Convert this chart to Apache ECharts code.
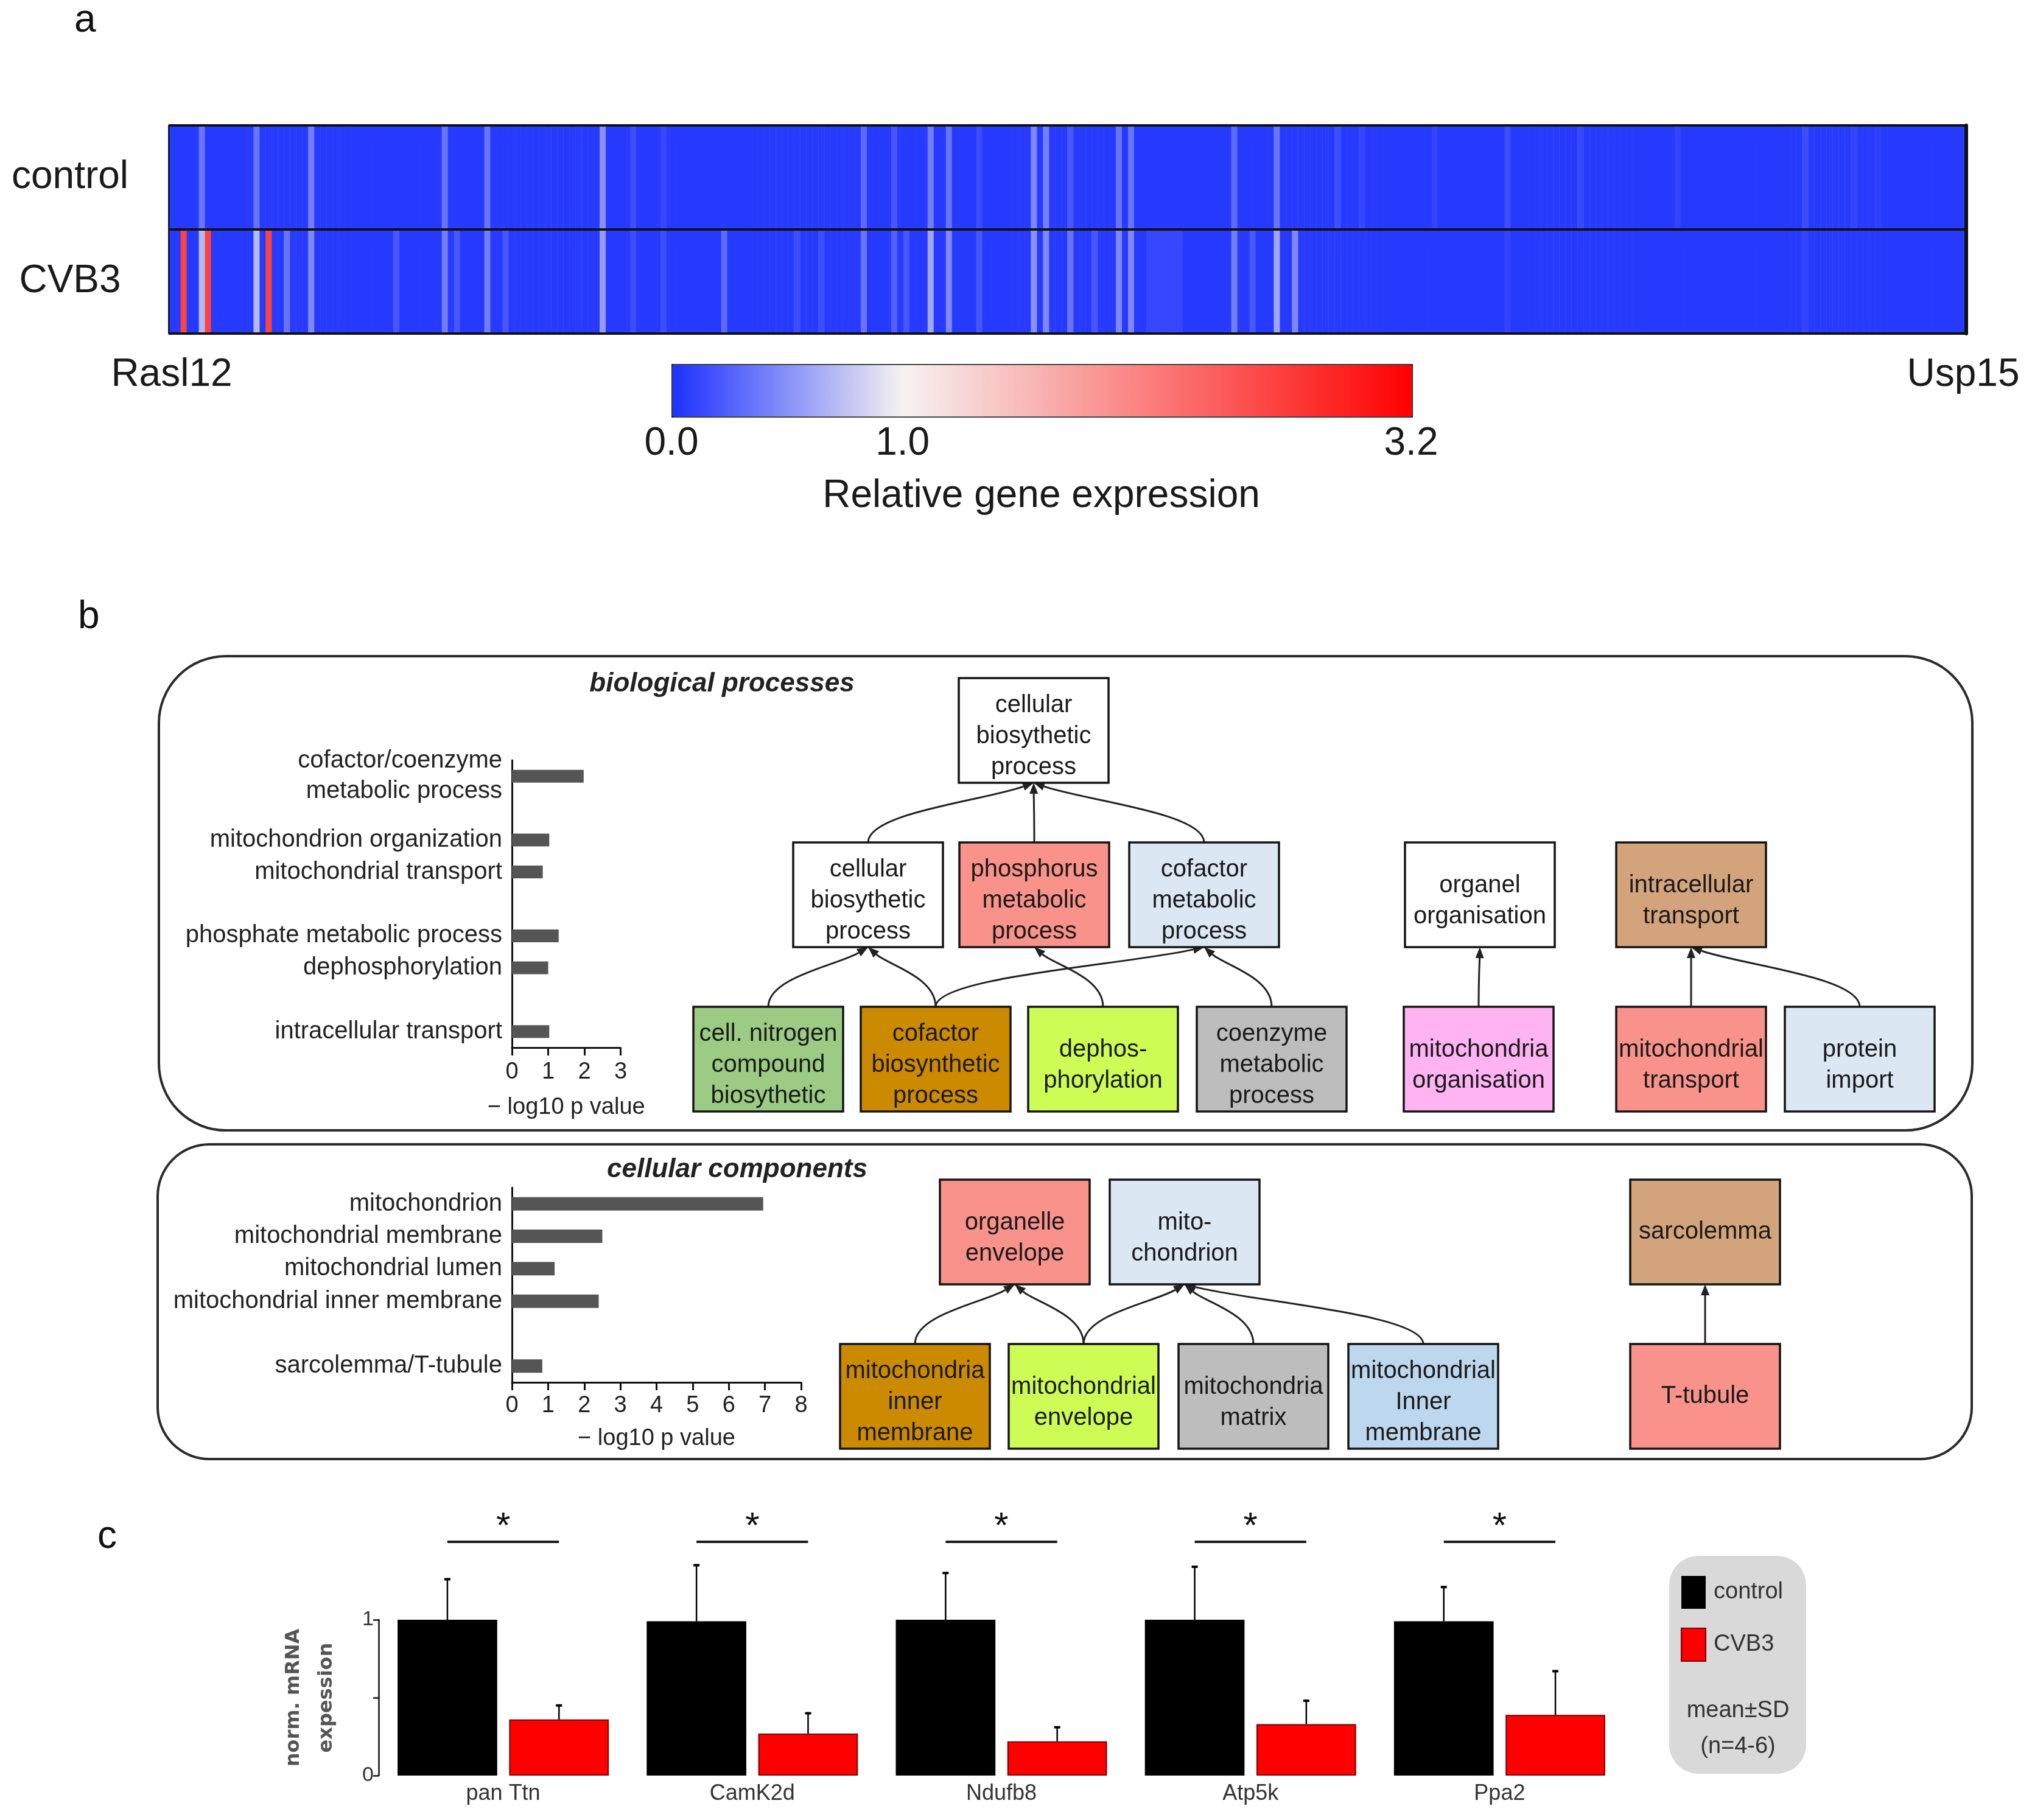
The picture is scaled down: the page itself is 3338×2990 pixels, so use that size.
<!DOCTYPE html>
<html><head><meta charset="utf-8">
<script src="https://cdn.jsdelivr.net/npm/echarts@6/dist/echarts.min.js"></script>
<style>html,body{margin:0;padding:0;background:#fff}#c{width:3338px;height:2990px}</style>
</head><body><div id="c"></div>
<script>
// ---------------- DATA ----------------
// panel a: relative expression per gene (columns, left Rasl12 -> right Usp15)
const controlExpr = [
0.05,0.05,0.05,0.05,0.05,0.35,0.05,0.05,0.05,0.05,0.05,0.05,0.05,0.05,0.35,0.05,0.05,0.05,0.05,0.05,
0.05,0.05,0.05,0.4,0.05,0.05,0.05,0.05,0.05,0.05,0.05,0.05,0.05,0.05,0.05,0.05,0.05,0.05,0.05,0.05,
0.05,0.05,0.05,0.05,0.05,0.35,0.05,0.05,0.05,0.05,0.05,0.05,0.35,0.05,0.05,0.05,0.05,0.05,0.05,0.05,
0.05,0.05,0.05,0.05,0.05,0.05,0.05,0.05,0.05,0.05,0.05,0.5,0.05,0.05,0.05,0.05,0.15,0.05,0.05,0.05,
0.05,0.12,0.05,0.05,0.05,0.05,0.05,0.05,0.05,0.05,0.05,0.05,0.05,0.05,0.05,0.05,0.05,0.05,0.05,0.05,
0.05,0.05,0.05,0.05,0.05,0.05,0.05,0.05,0.05,0.05,0.05,0.05,0.05,0.05,0.3,0.05,0.05,0.05,0.05,0.2,
0.05,0.05,0.05,0.05,0.05,0.4,0.05,0.05,0.35,0.05,0.05,0.05,0.05,0.15,0.05,0.05,0.05,0.05,0.05,0.05,
0.05,0.05,0.45,0.05,0.4,0.05,0.05,0.05,0.2,0.05,0.05,0.05,0.05,0.05,0.05,0.05,0.35,0.05,0.35,0.05,
0.05,0.05,0.05,0.05,0.05,0.05,0.05,0.05,0.05,0.05,0.05,0.05,0.05,0.05,0.05,0.3,0.05,0.05,0.05,0.05,
0.05,0.05,0.35,0.05,0.05,0.05,0.05,0.05,0.05,0.05,0.05,0.05,0.15,0.05,0.05,0.05,0.12,0.05,0.05,0.05,
0.05,0.05,0.05,0.05,0.05,0.05,0.05,0.05,0.1,0.05,0.05,0.05,0.05,0.05,0.05,0.05,0.05,0.05,0.05,0.05,
0.15,0.05,0.05,0.05,0.05,0.05,0.05,0.05,0.05,0.05,0.05,0.05,0.12,0.05,0.05,0.05,0.05,0.05,0.05,0.05,
0.05,0.05,0.05,0.05,0.05,0.05,0.05,0.05,0.1,0.05,0.05,0.05,0.05,0.05,0.05,0.05,0.05,0.05,0.05,0.05,
0.05,0.05,0.05,0.05,0.05,0.05,0.05,0.05,0.05,0.15,0.05,0.05,0.05,0.05,0.05,0.05,0.05,0.1,0.05,0.05,
0.05,0.08,0.05,0.05,0.05,0.05,0.05,0.05,0.05,0.05,0.05,0.05,0.05,0.05,0.05,0.05
];
const cvb3Expr = [
0.05,0.05,2.6,0.05,0.05,0.7,2.6,0.05,0.05,0.05,0.05,0.05,0.05,0.05,0.7,0.05,2.6,0.05,0.05,0.35,
0.05,0.05,0.05,0.45,0.05,0.05,0.05,0.05,0.05,0.05,0.05,0.05,0.05,0.05,0.05,0.05,0.05,0.2,0.05,0.05,
0.05,0.05,0.05,0.05,0.05,0.4,0.05,0.2,0.05,0.05,0.05,0.05,0.4,0.05,0.05,0.2,0.05,0.05,0.05,0.05,
0.05,0.05,0.05,0.05,0.05,0.05,0.05,0.05,0.05,0.05,0.05,0.55,0.05,0.05,0.05,0.05,0.15,0.05,0.05,0.05,
0.05,0.15,0.05,0.05,0.05,0.05,0.05,0.05,0.05,0.05,0.05,0.3,0.05,0.05,0.05,0.05,0.05,0.05,0.05,0.05,
0.05,0.05,0.05,0.15,0.05,0.05,0.05,0.15,0.05,0.05,0.05,0.05,0.05,0.05,0.35,0.05,0.05,0.05,0.05,0.25,
0.05,0.2,0.05,0.05,0.05,0.6,0.05,0.05,0.45,0.05,0.05,0.05,0.05,0.2,0.05,0.05,0.05,0.05,0.05,0.05,
0.05,0.05,0.5,0.05,0.45,0.05,0.05,0.05,0.35,0.05,0.05,0.05,0.2,0.05,0.05,0.05,0.45,0.05,0.45,0.05,
0.05,0.12,0.12,0.12,0.12,0.12,0.12,0.05,0.05,0.05,0.05,0.05,0.05,0.05,0.05,0.4,0.05,0.05,0.2,0.05,
0.05,0.05,0.6,0.05,0.05,0.45,0.05,0.05,0.05,0.05,0.05,0.05,0.05,0.05,0.05,0.05,0.05,0.05,0.05,0.05,
0.05,0.05,0.05,0.05,0.05,0.05,0.05,0.05,0.05,0.05,0.05,0.05,0.05,0.05,0.05,0.05,0.05,0.05,0.05,0.05,
0.1,0.05,0.05,0.05,0.05,0.05,0.05,0.05,0.05,0.05,0.05,0.05,0.05,0.05,0.05,0.05,0.05,0.05,0.05,0.05,
0.05,0.05,0.05,0.05,0.05,0.05,0.05,0.05,0.05,0.05,0.05,0.05,0.05,0.05,0.05,0.05,0.05,0.05,0.05,0.05,
0.05,0.05,0.05,0.05,0.05,0.05,0.05,0.05,0.05,0.1,0.05,0.05,0.05,0.05,0.05,0.05,0.05,0.05,0.05,0.05,
0.05,0.05,0.05,0.05,0.05,0.05,0.05,0.05,0.05,0.05,0.05,0.05,0.05,0.05,0.05,0.05
];
const heatRows = ['CVB3', 'control'];
const endGenes = ['Rasl12', 'Usp15'];
const colorbarTicks = [0, 1, 3.2];

// panel b: GO enrichment (-log10 p)
const bpTerms = ['cofactor/coenzyme\nmetabolic process', '', 'mitochondrion organization', 'mitochondrial transport', '', 'phosphate metabolic process', 'dephosphorylation', '', 'intracellular transport'];
const bpValues = [1.98, null, 1.03, 0.85, null, 1.29, 1.0, null, 1.03];
const ccTerms = ['mitochondrion', 'mitochondrial membrane', 'mitochondrial lumen', 'mitochondrial inner membrane', '', 'sarcolemma/T-tubule'];
const ccValues = [6.95, 2.5, 1.18, 2.4, null, 0.84];

// panel b: GO graphs
const bpNodes = ['cellular\nbiosythetic\nprocess', 'cellular\nbiosythetic\nprocess', 'phosphorus\nmetabolic\nprocess', 'cofactor\nmetabolic\nprocess', 'organel\norganisation', 'intracellular\ntransport', 'cell. nitrogen\ncompound\nbiosythetic', 'cofactor\nbiosynthetic\nprocess', 'dephos-\nphorylation', 'coenzyme\nmetabolic\nprocess', 'mitochondria\norganisation', 'mitochondrial\ntransport', 'protein\nimport'];
const bpEdges = [[1,0],[2,0],[3,0],[6,1],[7,1],[7,3],[8,2],[9,3],[10,4],[11,5],[12,5]];
const ccNodes = ['organelle\nenvelope', 'mito-\nchondrion', 'sarcolemma', 'mitochondria\ninner\nmembrane', 'mitochondrial\nenvelope', 'mitochondria\nmatrix', 'mitochondrial\nInner\nmembrane', 'T-tubule'];
const ccEdges = [[3,0],[4,0],[4,1],[5,1],[6,1],[7,2]];

// panel c: qPCR
const genesC = ['pan Ttn', 'CamK2d', 'Ndufb8', 'Atp5k', 'Ppa2'];
const ctrlMean = [1.0, 0.99, 1.0, 1.0, 0.99];
const ctrlSD = [0.26, 0.36, 0.30, 0.34, 0.22];
const cvbMean = [0.36, 0.27, 0.22, 0.33, 0.39];
const cvbSD = [0.09, 0.13, 0.09, 0.15, 0.28];
const sigMarks = ['*', '*', '*', '*', '*'];
const SIG_LEVEL = 1.5;

// ---------------- LAYOUT / STYLE ----------------
const FONT = "'Liberation Sans', Arimo, Arial, sans-serif";
const BOX_W = 246, BOX_H = 172;
const bpPos = [[1698,1200],[1426,1470],[1699,1470],[1978,1470],[2431,1470],[2778,1470],[1262,1740],[1537,1740],[1812,1740],[2089,1740],[2429,1740],[2778,1740],[3055,1740]];
const bpColors = ['#ffffff','#ffffff','#f9928a','#dce7f4','#ffffff','#d3a47c','#9ccb84','#cc8a00','#cdfd55','#bdbdbd','#ffb3f3','#f9928a','#dce7f4'];
const ccPos = [[1667,2024],[1946,2024],[2801,2024],[1503,2294],[1780,2294],[2059,2294],[2338,2294],[2801,2294]];
const ccColors = ['#f9928a','#dce7f4','#d3a47c','#cc8a00','#cdfd55','#bdbdbd','#bdd7ee','#f9928a'];

// colour map: blue (0) -> white (1.0) -> red (3.2)
const BLUE = [28, 48, 255], WHITE = [246, 243, 241], RED = [255, 0, 0];
function mix(a, b, t) { return 'rgb(' + a.map((v, k) => Math.round(v + (b[k] - v) * t)).join(',') + ')'; }
const cmap = [];
for (let k = 0; k <= 32; k++) { const v = k / 10; cmap.push(v <= 1 ? mix(BLUE, WHITE, v) : mix(WHITE, RED, (v - 1) / 2.2)); }

const N = Math.min(controlExpr.length, cvb3Expr.length);
const heatData = [];
for (let i = 0; i < N; i++) { heatData.push([i, 0, cvb3Expr[i]]); heatData.push([i, 1, controlExpr[i]]); }
const geneIdx = Array.from({length: N}, (_, i) => String(i));

function boxRender(names, pos, colors) {
  return function (params, api) {
    const i = params.dataIndex;
    const c = api.coord([api.value(0), api.value(1)]);
    const s = api.size([BOX_W, BOX_H]);
    const w = Math.abs(s[0]), h = Math.abs(s[1]);
    const nl = names[i].split('\n').length;
    return { type: 'group', children: [
      { type: 'rect', shape: { x: c[0] - w / 2, y: c[1] - h / 2, width: w, height: h },
        style: { fill: colors[i], stroke: '#141414', lineWidth: 3.5 } },
      { type: 'text', x: c[0], y: c[1] + (nl > 1 ? 10 : 0),
        style: { text: names[i], fill: '#1a1a1a', fontSize: 40, fontFamily: FONT, align: 'center', verticalAlign: 'middle', lineHeight: 51 } }
    ]};
  };
}
function edgeRender(params, api) {
  const a = api.coord([api.value(0), api.value(1)]);
  const b = api.coord([api.value(2), api.value(3)]);
  const dx = a[0] - b[0], dy = a[1] - b[1];
  const cp1 = [a[0], a[1] - dy * 0.5];
  const cp2 = [b[0] + dx * 0.3, b[1] + dy * 0.3];
  let ux = b[0] - cp2[0], uy = b[1] - cp2[1];
  const L = Math.hypot(ux, uy) || 1; ux /= L; uy /= L;
  const AL = 18, AW = 7;
  const bx = b[0] - ux * AL, by = b[1] - uy * AL;
  return { type: 'group', children: [
    { type: 'bezierCurve', shape: { x1: a[0], y1: a[1], x2: bx, y2: by, cpx1: cp1[0], cpy1: cp1[1], cpx2: cp2[0], cpy2: cp2[1] },
      style: { stroke: '#222', lineWidth: 3, fill: null } },
    { type: 'polygon', shape: { points: [[b[0], b[1]], [bx - uy * AW, by + ux * AW], [bx + uy * AW, by - ux * AW]] },
      style: { fill: '#222' } }
  ]};
}
function edgeData(edges, pos) {
  return edges.map(([c, p]) => [pos[c][0], pos[c][1] - BOX_H / 2, pos[p][0], pos[p][1] + BOX_H / 2]);
}

const errData = [];
genesC.forEach((g, i) => { errData.push([i, ctrlMean[i], ctrlSD[i], 0]); errData.push([i, cvbMean[i], cvbSD[i], 1]); });
const OFF = 0.224;

const axisBlack = { lineStyle: { color: '#111', width: 3 } };

const option = {
  animation: false,
  backgroundColor: '#ffffff',
  textStyle: { fontFamily: FONT },
  grid: [
    { left: 277, top: 206, width: 2953, height: 342 },
    { left: 1103, top: 598, width: 1215, height: 85 },
    { left: 841, top: 1249, width: 178.5, height: 472 },
    { left: 841, top: 1951, width: 475, height: 320 },
    { left: 622, top: 2661, width: 2046, height: 256 },
    { left: 0, top: 0, width: 3338, height: 2990 }
  ],
  xAxis: [
    { gridIndex: 0, type: 'category', data: geneIdx, axisLine: { show: false }, axisTick: { show: false },
      axisLabel: { interval: (idx) => idx === 0 || idx === N - 1, formatter: (v, idx) => idx === 0 ? endGenes[0] : endGenes[1],
        fontSize: 64, color: '#1a1a1a', margin: 36, fontFamily: FONT } },
    { gridIndex: 1, type: 'value', min: 0, max: 3.2, interval: 1, axisLine: { show: false }, axisTick: { show: false }, splitLine: { show: false },
      axisLabel: { fontSize: 64, color: '#1a1a1a', margin: 14, showMaxLabel: true, showMinLabel: true, fontFamily: FONT,
        formatter: (v) => colorbarTicks.some(t => Math.abs(t - v) < 1e-9) ? v.toFixed(1) : '' },
      name: 'Relative gene expression', nameLocation: 'middle', nameGap: 100, nameTextStyle: { fontSize: 64, color: '#1a1a1a', fontFamily: FONT } },
    { gridIndex: 2, type: 'value', min: 0, max: 3, interval: 1, axisLine: { show: true, ...axisBlack }, axisTick: { show: true, length: 13, ...axisBlack },
      splitLine: { show: false }, axisLabel: { fontSize: 38, color: '#222', margin: 22, fontFamily: FONT },
      name: '\u2212 log10 p value', nameLocation: 'middle', nameGap: 80, nameTextStyle: { fontSize: 38, color: '#222', fontFamily: FONT } },
    { gridIndex: 3, type: 'value', min: 0, max: 8, interval: 1, axisLine: { show: true, ...axisBlack }, axisTick: { show: true, length: 13, ...axisBlack },
      splitLine: { show: false }, axisLabel: { fontSize: 38, color: '#222', margin: 20, fontFamily: FONT },
      name: '\u2212 log10 p value', nameLocation: 'middle', nameGap: 74, nameTextStyle: { fontSize: 38, color: '#222', fontFamily: FONT } },
    { gridIndex: 4, type: 'category', data: genesC, axisLine: { show: false }, axisTick: { show: false },
      axisLabel: { fontSize: 36, color: '#333', margin: 12, fontFamily: FONT } },
    { gridIndex: 5, type: 'value', min: 0, max: 3338, show: false }
  ],
  yAxis: [
    { gridIndex: 0, type: 'category', data: heatRows, z: 5, axisTick: { show: false },
      axisLine: { show: true, lineStyle: { color: '#1a1a40', width: 3 } },
      splitLine: { show: true, lineStyle: { color: '#111', width: 4 } },
      axisLabel: { fontSize: 64, color: '#1a1a1a', align: 'center', margin: 162, fontFamily: FONT } },
    { gridIndex: 0, type: 'category', data: heatRows, position: 'right', z: 5, axisTick: { show: false }, axisLabel: { show: false },
      axisLine: { show: true, lineStyle: { color: '#111', width: 6 } } },
    { gridIndex: 1, type: 'value', show: false },
    { gridIndex: 2, type: 'category', data: bpTerms, inverse: true, axisTick: { show: false },
      axisLine: { show: true, ...axisBlack }, axisLabel: { fontSize: 40, color: '#222', margin: 16, lineHeight: 50, fontFamily: FONT } },
    { gridIndex: 3, type: 'category', data: ccTerms, inverse: true, axisTick: { show: false },
      axisLine: { show: true, ...axisBlack }, axisLabel: { fontSize: 40, color: '#222', margin: 16, fontFamily: FONT } },
    { gridIndex: 4, type: 'value', min: 0, max: 1, interval: 0.5, splitLine: { show: false },
      axisLine: { show: true, lineStyle: { color: '#111', width: 2.5 } }, axisTick: { show: true, length: 9, lineStyle: { color: '#111', width: 2.5 } },
      axisLabel: { fontSize: 34, color: '#333', margin: 8, fontFamily: FONT, formatter: (v) => (v === 0 || v === 1) ? String(v) : '' },
      name: 'norm. mRNA\nexpession', nameLocation: 'middle', nameRotate: 90, nameGap: 58,
      nameTextStyle: { fontSize: 32, color: '#555', fontWeight: 'bold', fontFamily: "'DejaVu Sans', sans-serif", lineHeight: 54 } },
    { gridIndex: 5, type: 'value', min: 0, max: 2990, inverse: true, show: false }
  ],
  visualMap: {
    type: 'continuous', min: 0, max: 3.2, seriesIndex: 0, orient: 'horizontal',
    left: 1103, top: 598, itemWidth: 85, itemHeight: 1215, calculable: false, hoverLink: false,
    padding: 0, borderColor: '#1a1a1a', borderWidth: 3, inRange: { color: cmap }
  },
  legend: {
    data: ['control', 'CVB3'], left: 2761, top: 2589, orient: 'vertical', icon: 'rect',
    itemWidth: 40, itemHeight: 54, itemGap: 31, padding: 0,
    textStyle: { fontSize: 38, color: '#333', fontFamily: FONT, padding: [0, 0, 0, 8] }
  },
  graphic: [
    { type: 'text', left: 122, top: 2, style: { text: 'a', fontSize: 64, fill: '#111', fontFamily: FONT } },
    { type: 'text', left: 128, top: 982, style: { text: 'b', fontSize: 64, fill: '#111', fontFamily: FONT } },
    { type: 'text', left: 160, top: 2493, style: { text: 'c', fontSize: 64, fill: '#111', fontFamily: FONT } },
    { type: 'rect', z: -1, shape: { x: 261, y: 1078, width: 2979, height: 779, r: 110 }, style: { fill: 'none', stroke: '#2a2a2a', lineWidth: 4 } },
    { type: 'rect', z: -1, shape: { x: 259, y: 1880, width: 2980, height: 517, r: 85 }, style: { fill: 'none', stroke: '#2a2a2a', lineWidth: 4 } },
    { type: 'text', x: 1186, y: 1124, style: { text: 'biological processes', fontSize: 44, fontWeight: 'bold', fontStyle: 'italic', fill: '#222', fontFamily: FONT, align: 'center', verticalAlign: 'middle' } },
    { type: 'text', x: 1211, y: 1922, style: { text: 'cellular components', fontSize: 44, fontWeight: 'bold', fontStyle: 'italic', fill: '#222', fontFamily: FONT, align: 'center', verticalAlign: 'middle' } },
    { type: 'rect', z: -1, shape: { x: 2742, y: 2556, width: 225, height: 358, r: 48 }, style: { fill: '#d9d9d9' } },
    { type: 'text', x: 2855, y: 2811, style: { text: 'mean\u00b1SD', fontSize: 38, fill: '#333', fontFamily: FONT, align: 'center', verticalAlign: 'middle' } },
    { type: 'text', x: 2855, y: 2870, style: { text: '(n=4-6)', fontSize: 38, fill: '#333', fontFamily: FONT, align: 'center', verticalAlign: 'middle' } }
  ],
  series: [
    { type: 'heatmap', xAxisIndex: 0, yAxisIndex: 0, data: heatData, progressive: 0, itemStyle: { borderWidth: 0 } },
    { type: 'bar', xAxisIndex: 2, yAxisIndex: 3, data: bpValues, barWidth: 21, itemStyle: { color: '#555' } },
    { type: 'bar', xAxisIndex: 3, yAxisIndex: 4, data: ccValues, barWidth: 22, itemStyle: { color: '#555' } },
    { name: 'control', type: 'bar', xAxisIndex: 4, yAxisIndex: 5, data: ctrlMean, barWidth: '40%', barGap: '12%', itemStyle: { color: '#000' } },
    { name: 'CVB3', type: 'bar', xAxisIndex: 4, yAxisIndex: 5, data: cvbMean, barWidth: '40%', barGap: '12%', itemStyle: { color: '#ff0000', borderColor: '#7a0000', borderWidth: 2 } },
    { type: 'custom', xAxisIndex: 4, yAxisIndex: 5, data: errData, encode: { x: 0, y: 1 }, z: 4, clip: false,
      renderItem: (params, api) => {
        const ci = api.value(0), m = api.value(1), sd = api.value(2), g = api.value(3);
        const band = api.size([1, 0])[0];
        const p0 = api.coord([ci, m]), p1 = api.coord([ci, m + sd]);
        const x = p0[0] + (g === 0 ? -1 : 1) * OFF * band;
        return { type: 'group', children: [
          { type: 'line', shape: { x1: x, y1: p0[1], x2: x, y2: p1[1] }, style: { stroke: '#000', lineWidth: 2.5 } },
          { type: 'line', shape: { x1: x - 5, y1: p1[1], x2: x + 5, y2: p1[1] }, style: { stroke: '#000', lineWidth: 4 } }
        ]};
      } },
    { type: 'custom', xAxisIndex: 4, yAxisIndex: 5, data: sigMarks.map((s, i) => [i, SIG_LEVEL]), encode: { x: 0, y: 1 }, z: 4, clip: false,
      renderItem: (params, api) => {
        const ci = api.value(0), lv = api.value(1);
        const band = api.size([1, 0])[0];
        const p = api.coord([ci, lv]);
        const ps = api.coord([ci, lv + 0.125]);
        return { type: 'group', children: [
          { type: 'line', shape: { x1: p[0] - OFF * band, y1: p[1], x2: p[0] + OFF * band, y2: p[1] }, style: { stroke: '#1a1a1a', lineWidth: 4 } },
          { type: 'text', x: p[0], y: ps[1] + 8, style: { text: sigMarks[params.dataIndex], fontSize: 60, fill: '#111', fontFamily: FONT, align: 'center', verticalAlign: 'middle' } }
        ]};
      } },
    { type: 'custom', xAxisIndex: 5, yAxisIndex: 6, data: edgeData(bpEdges, bpPos), encode: { x: [0, 2], y: [1, 3] }, z: 2, clip: false, renderItem: edgeRender },
    { type: 'custom', xAxisIndex: 5, yAxisIndex: 6, data: bpPos.map(p => [p[0], p[1]]), encode: { x: 0, y: 1 }, z: 3, clip: false, renderItem: boxRender(bpNodes, bpPos, bpColors) },
    { type: 'custom', xAxisIndex: 5, yAxisIndex: 6, data: edgeData(ccEdges, ccPos), encode: { x: [0, 2], y: [1, 3] }, z: 2, clip: false, renderItem: edgeRender },
    { type: 'custom', xAxisIndex: 5, yAxisIndex: 6, data: ccPos.map(p => [p[0], p[1]]), encode: { x: 0, y: 1 }, z: 3, clip: false, renderItem: boxRender(ccNodes, ccPos, ccColors) }
  ]
};
const chart = echarts.init(document.getElementById('c'));
chart.setOption(option);
</script></body></html>
